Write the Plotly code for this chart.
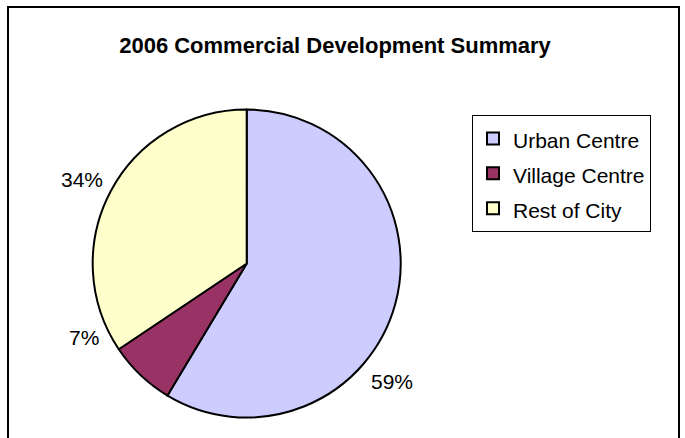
import plotly.graph_objects as go

labels = ["Urban Centre", "Village Centre", "Rest of City"]
values = [58.6, 7.0, 34.4]
colors = ["#CCCCFF", "#993366", "#FFFFCC"]

W, H = 685, 438
cx, cy, r = 246.7, 263.5, 154
FONT = "Arial, Liberation Sans, sans-serif"
# percentage label anchor points (pixels from top-left), in slice order
label_px = [(392, 381), (84, 337), (82, 179)]

fig = go.Figure(go.Pie(
    labels=[f"<span style='font-size:21px'>{l}</span>" for l in labels],
    values=values, sort=False, direction="clockwise", rotation=0,
    marker=dict(colors=colors, line=dict(color="black", width=2)),
    textinfo="none",
    domain=dict(x=[(cx - r) / W, (cx + r) / W], y=[(H - cy - r) / H, (H - cy + r) / H]),
    hovertext=labels, hoverinfo="text+percent",
))

total = sum(values)
annotations = [
    dict(text=f"{round(v / total * 100)}%", x=px / W, y=1 - py / H, xref="paper", yref="paper",
         xanchor="center", yanchor="middle", showarrow=False,
         font=dict(family=FONT, size=21, color="black"))
    for v, (px, py) in zip(values, label_px)
]

fig.update_layout(
    width=W, height=H, margin=dict(l=0, r=0, t=0, b=0),
    paper_bgcolor="white", plot_bgcolor="white",
    title=dict(text="<b>2006 Commercial Development Summary</b>", x=335 / W, xanchor="center",
               y=1 - 45 / H, yanchor="middle",
               font=dict(family=FONT, size=22, color="black")),
    legend=dict(x=472 / W, y=1 - 115 / H, xanchor="left", yanchor="top",
                bordercolor="black", borderwidth=1, bgcolor="white",
                font=dict(family=FONT, size=24.5, color="black")),
    annotations=annotations,
    shapes=[dict(type="rect", xref="paper", yref="paper", x0=8 / W, x1=679 / W,
                 y0=-0.05, y1=1 - 7 / H, line=dict(color="black", width=2))],
)

fig.write_html("out.html", config={"displayModeBar": False},
               post_script="document.body.style.margin='0';document.body.style.overflow='hidden';")
